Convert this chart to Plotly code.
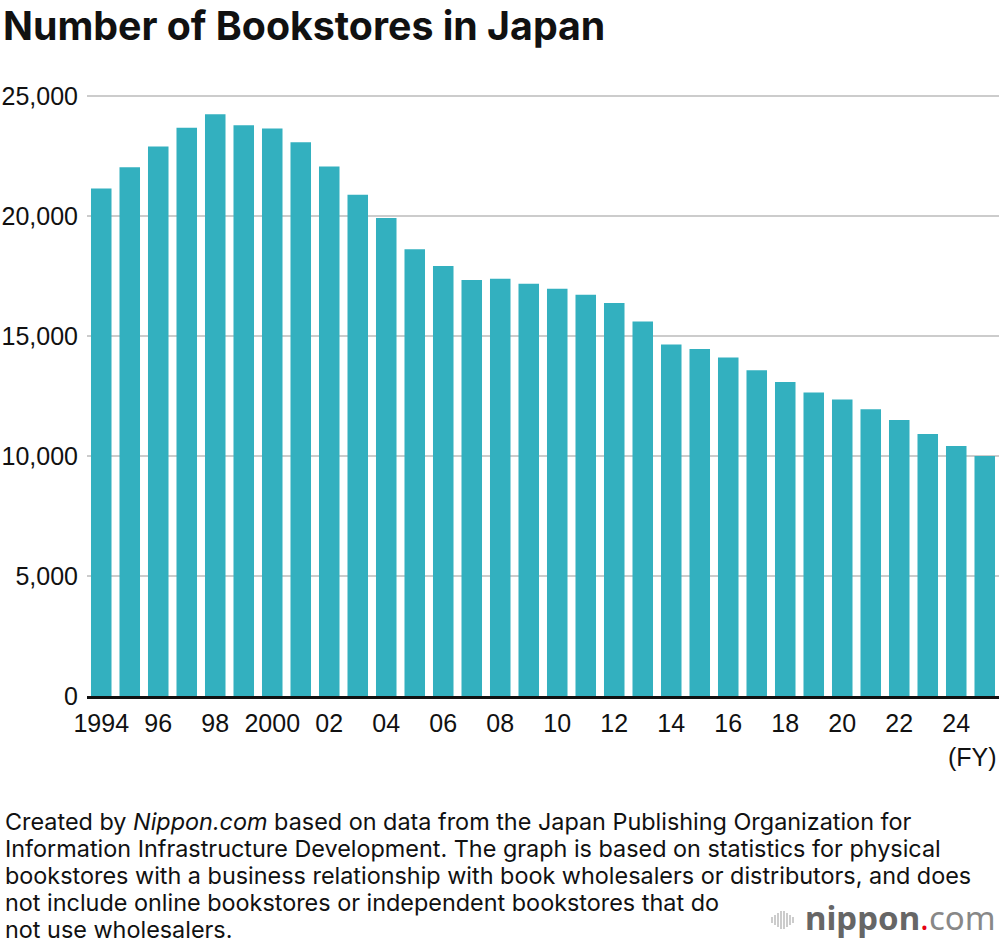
import plotly.graph_objects as go

years = list(range(1994, 2026))
stores = [21150, 22030, 22900, 23680, 24240, 23780, 23650, 23070, 22060, 20890,
          19920, 18610, 17920, 17330, 17390, 17180, 16970, 16720, 16370, 15600,
          14650, 14460, 14100, 13570, 13080, 12650, 12350, 11950, 11500, 10920,
          10420, 10000]
tick_years = list(range(1994, 2025, 2))
tick_text = ["1994", "96", "98", "2000", "02", "04", "06", "08", "10", "12",
             "14", "16", "18", "20", "22", "24"]
y_ticks = [0, 5000, 10000, 15000, 20000, 25000]
y_tick_text = ["0", "5,000", "10,000", "15,000", "20,000", "25,000"]
footnote_lines = [
    "Created by <i>Nippon.com</i> based on data from the Japan Publishing Organization for",
    "Information Infrastructure Development. The graph is based on statistics for physical",
    "bookstores with a business relationship with book wholesalers or distributors, and does",
    "not include online bookstores or independent bookstores that do",
    "not use wholesalers.",
]

W, H = 1000, 946
L, R, T, B = 87, 1, 72, 250
PW, PH = W - L - R, H - T - B

def px(x):
    return (x - L) / PW

def py(y):
    return (H - B - y) / PH

FONT = "Liberation Sans, Arial, Helvetica, sans-serif"
NOTE_FONT = "Inter, Liberation Sans, sans-serif"
BAR = "#33b0bf"

fig = go.Figure(go.Bar(
    x=years, y=stores, marker=dict(color=BAR, line=dict(width=0)),
    width=0.72, hoverinfo="x+y"))

fig.update_layout(
    width=W, height=H, margin=dict(l=L, r=R, t=T, b=B),
    plot_bgcolor="white", paper_bgcolor="white",
    font=dict(family=FONT, size=25, color="#111"),
    showlegend=False,
    title=dict(text="<b>Number of Bookstores in Japan</b>", xref="container", yref="container",
               x=3 / W, y=1 - 26 / H, xanchor="left", yanchor="middle",
               font=dict(family=NOTE_FONT, size=39.3, color="#111")),
    xaxis=dict(range=[1993.5, 2025.5], tickmode="array", tickvals=tick_years, ticktext=tick_text,
               showgrid=False, showline=True, linecolor="#111", linewidth=2.5, ticks="",
               ticklabelstandoff=3, tickfont=dict(size=25, color="#111"), zeroline=False),
    yaxis=dict(range=[0, 26000], tickmode="array", tickvals=y_ticks, ticktext=y_tick_text,
               showgrid=True, gridcolor="#cccccc", gridwidth=2, zeroline=False, ticks="",
               ticklabelstandoff=8, tickfont=dict(size=25, color="#111"), showline=False),
)

fig.add_annotation(text="(FY)", xref="paper", yref="paper", x=px(999), y=py(757),
                   xanchor="right", yanchor="middle", showarrow=False,
                   font=dict(family=FONT, size=25, color="#111"))

for i, line in enumerate(footnote_lines):
    fig.add_annotation(text=line, xref="paper", yref="paper", x=px(3), y=py(821 + 27 * i),
                       xanchor="left", yanchor="middle", align="left", showarrow=False,
                       font=dict(family=NOTE_FONT, size=23.4, color="#111"))

# logo
fig.add_annotation(
    text="<b><span style='color:#666666'>nippon</span></b><span style='color:#e60012'>.</span><span style='color:#888888'>com</span>",
    xref="paper", yref="paper", x=px(998), y=py(917), xanchor="right", yanchor="middle",
    showarrow=False, font=dict(family="Noto Sans, sans-serif", size=33))
icon = [(772, 6), (775, 10), (778, 14), (781, 18), (784, 18), (787, 14), (790, 10), (793, 6)]
for x0, h in icon:
    fig.add_shape(type="line", xref="paper", yref="paper", x0=px(x0), x1=px(x0),
                  y0=py(920 - h / 2), y1=py(920 + h / 2), line=dict(color="#bbbbbb", width=1.5))

fig.write_html("out.html")
